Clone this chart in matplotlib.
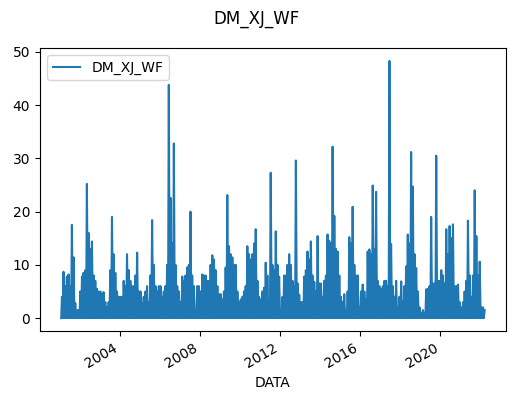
import matplotlib
matplotlib.use("Agg")
import matplotlib.pyplot as plt
import matplotlib.dates as mdates
import pandas as pd

# monthly maxima (series starts Feb 2001)
y2001 = [4, 8.7, 6, 7.8, 8.2, 6, 17.5, 11.4, 2.8, 1.5, 1.5]
y2002 = [5, 7.8, 8.5, 9, 25.2, 16, 13, 14.4, 8, 7, 5.5, 5]
y2003 = [5, 4.5, 4.9, 3, 2, 3, 9, 19, 12, 8.5, 5, 4]
y2004 = [4, 4, 7, 6, 12, 9, 7, 6, 6, 8, 12.3, 5]
y2005 = [5, 2.8, 4, 5, 6, 3, 8, 18.4, 10, 6, 5, 6]
y2006 = [6, 4, 5, 6, 10, 43.8, 22.6, 14, 32.8, 10, 6, 5]
y2007 = [3, 7.8, 7, 8, 9.5, 10, 20, 8, 6, 1.5, 6, 6]
y2008 = [5, 8.2, 8, 8, 7, 7, 10, 11.8, 11, 9, 6, 4.5]
y2009 = [4.5, 3.5, 5, 9.5, 23.1, 13.5, 12, 11.4, 10, 10, 5, 3]
y2010 = [3.5, 4, 5, 6, 13.5, 12, 11, 12, 14, 16.7, 7, 4]
y2011 = [3.5, 5, 5.7, 10.4, 8, 3, 27.3, 10, 9, 16.3, 10, 7.8]
y2012 = [1.7, 4, 8, 8, 10, 12, 10, 7, 6, 29.6, 6.5, 4.4]
y2013 = [3, 3, 7.8, 9, 12.5, 11, 14.4, 8, 6.8, 5, 15.4, 6.5]
y2014 = [6.5, 4, 7, 8, 15.7, 14.5, 14, 32.2, 19.2, 13, 12.5, 8]
y2015 = [4, 3, 4.5, 1.5, 5, 15.2, 14, 20.9, 10, 8, 8, 2]
y2016 = [5, 6.3, 5, 3.5, 12.5, 12.9, 12, 24.9, 13, 23.7, 7, 6]
y2017 = [5.4, 6, 7, 7, 6, 48.3, 13.9, 6, 4, 7, 2, 4]
y2018 = [6.9, 3.2, 6, 9.7, 15.7, 14, 31.2, 24.7, 12, 9.4, 5, 2]
y2019 = [1, 1.5, 1, 5.4, 5.5, 6, 19, 6.5, 6.5, 30.5, 7, 7]
y2020 = [9, 8, 6.5, 16.7, 12, 17.3, 15, 17.6, 6, 6, 6.3, 3]
y2021 = [2, 3, 5, 7, 18.3, 8, 4, 8, 24, 15.4, 8, 10.6]
y2022 = [2, 2, 1.5]

monthly_max = (y2001 + y2002 + y2003 + y2004 + y2005 + y2006 + y2007 + y2008
               + y2009 + y2010 + y2011 + y2012 + y2013 + y2014 + y2015 + y2016
               + y2017 + y2018 + y2019 + y2020 + y2021 + y2022)
monthly_min = 0.0

months = pd.date_range("2001-02-01", periods=len(monthly_max), freq="MS")

dates = []
vals = []
for m, v in zip(months, monthly_max):
    dates += [m, m + pd.Timedelta(days=14)]
    vals += [monthly_min, v]

fig, ax = plt.subplots(figsize=(5.13, 3.94), dpi=100)
ax.plot(dates, vals, color="#1f77b4", lw=1.5, label="DM_XJ_WF")

fig.suptitle("DM_XJ_WF", fontsize=12, y=0.975)
ax.set_xlabel("DATA")
ax.set_yticks([0, 10, 20, 30, 40, 50])
ax.xaxis.set_major_locator(mdates.YearLocator(4))
ax.xaxis.set_major_formatter(mdates.DateFormatter("%Y"))
plt.setp(ax.get_xticklabels(), rotation=30, ha="right")
ax.legend(loc="upper left")

plt.subplots_adjust(left=0.078, right=0.986, top=0.878, bottom=0.160)
plt.savefig("out.png")
